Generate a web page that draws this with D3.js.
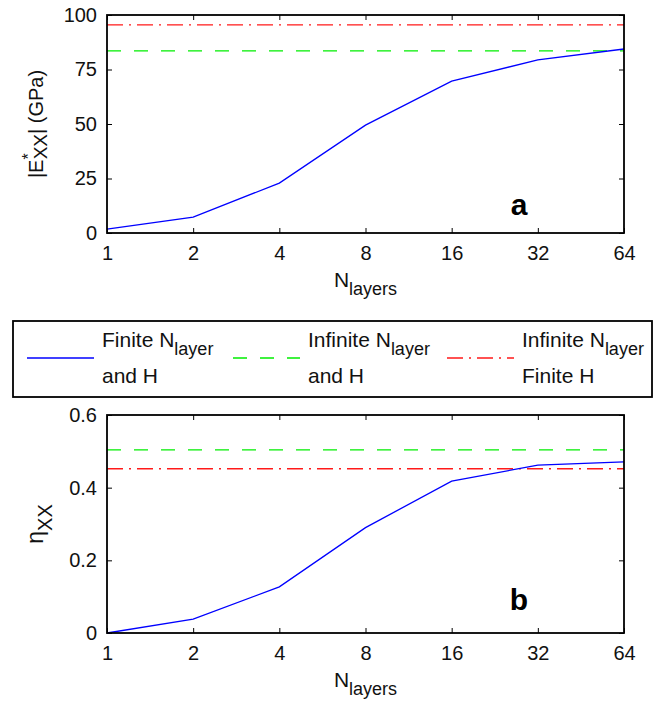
<!DOCTYPE html>
<html>
<head>
<meta charset="utf-8">
<script src="https://cdn.jsdelivr.net/npm/d3@7"></script>
<style>
    body { margin: 0; background: #fff; }
    svg { display: block; font-family: "Liberation Sans", Arial, sans-serif; }
    .frame { fill: none; stroke: #000; stroke-width: 1.8; }
    .axis path { display: none; }
    .axis line { stroke: #000; stroke-width: 1; }
    .axis text { font-size: 20px; fill: #111; font-family: "Liberation Sans", Arial, sans-serif; }
</style>
</head>
<body>
<script>
// Number of layers (x axis, log2 spaced)
const nLayers = [1, 2, 4, 8, 16, 32, 64];

// Panel a: |E*_XX| (GPa)
const exxFinite = [1.8, 7.3, 22.9, 49.5, 69.7, 79.4, 84.4];
const exxInfiniteNH = 83.5;     // infinite N_layer and H
const exxInfiniteNFiniteH = 95.5; // infinite N_layer, finite H
const exxTicks = [0, 25, 50, 75, 100];

// Panel b: eta_XX
const etaFinite = [0.0, 0.038, 0.127, 0.29, 0.418, 0.462, 0.471];
const etaInfiniteNH = 0.504;
const etaInfiniteNFiniteH = 0.452;
const etaTicks = [0, 0.2, 0.4, 0.6];

const legendLabels = [
    ["Finite N", "layer", "and H"],
    ["Infinite N", "layer", "and H"],
    ["Infinite N", "layer", "Finite H"]
];

const styles = {
    finite: { color: "#0000ff", dash: null },
    infNH: { color: "#00ee00", dash: "14,13" },
    infNFinH: { color: "#ff1a1a", dash: "16,6,2,6" }
};

const svg = d3.select("body").append("svg").attr("width", 659).attr("height", 701);

const left = 107, right = 624;

function drawPanel(opts) {
    const x = d3.scaleLog().base(2).domain([1, 64]).range([left, right]);
    const y = d3.scaleLinear().domain(opts.yDomain).range([opts.bottom, opts.top]);
    const g = svg.append("g");

    // axes with inward ticks
    g.append("g").attr("class", "axis")
        .attr("transform", `translate(0,${opts.bottom})`)
        .call(d3.axisBottom(x).tickValues(nLayers).tickFormat(d3.format("d")).tickSizeInner(-5).tickSizeOuter(0).tickPadding(13));
    g.append("g").attr("class", "axis")
        .attr("transform", `translate(0,${opts.top})`)
        .call(d3.axisTop(x).tickValues(nLayers).tickFormat("").tickSizeInner(-5).tickSizeOuter(0));
    g.append("g").attr("class", "axis")
        .attr("transform", `translate(${left},0)`)
        .call(d3.axisLeft(y).tickValues(opts.ticks).tickFormat(opts.fmt).tickSizeInner(-5).tickSizeOuter(0).tickPadding(10));
    g.append("g").attr("class", "axis")
        .attr("transform", `translate(${right},0)`)
        .call(d3.axisRight(y).tickValues(opts.ticks).tickFormat("").tickSizeInner(-5).tickSizeOuter(0));

    const line = d3.line().x(d => x(d[0])).y(d => y(d[1]));

    const refs = [
        { v: opts.infNH, s: styles.infNH },
        { v: opts.infNFinH, s: styles.infNFinH }
    ];
    refs.forEach(r => {
        g.append("path")
            .attr("d", line(x.domain().map(n => [n, r.v])))
            .attr("fill", "none")
            .attr("stroke", r.s.color)
            .attr("stroke-width", 1.3)
            .attr("stroke-dasharray", r.s.dash);
    });

    g.append("path")
        .attr("d", line(nLayers.map((n, i) => [n, opts.finite[i]])))
        .attr("fill", "none")
        .attr("stroke", styles.finite.color)
        .attr("stroke-width", 1.3);

    g.append("rect").attr("class", "frame")
        .attr("x", left).attr("y", opts.top)
        .attr("width", right - left).attr("height", opts.bottom - opts.top);

    // panel letter
    g.append("text")
        .attr("x", 519).attr("y", opts.bottom - opts.letterOffset)
        .attr("text-anchor", "middle")
        .attr("font-size", 30).attr("font-weight", "bold")
        .text(opts.letter);

    // x label
    const xl = g.append("text")
        .attr("x", (left + right) / 2).attr("y", opts.bottom + 54)
        .attr("text-anchor", "middle")
        .attr("font-size", 21).attr("fill", "#111");
    xl.append("tspan").text("N");
    xl.append("tspan").attr("dy", 8).attr("font-size", 18).text("layers");

    // y label
    const yl = g.append("text")
        .attr("transform", `translate(43,${(opts.top + opts.bottom) / 2}) rotate(-90)`)
        .attr("text-anchor", "middle")
        .attr("font-size", 20).attr("fill", "#111");
    opts.yLabel(yl);
}

drawPanel({
    top: 15, bottom: 233,
    yDomain: [0, 100], ticks: exxTicks, fmt: d3.format("d"),
    finite: exxFinite, infNH: exxInfiniteNH, infNFinH: exxInfiniteNFiniteH,
    letter: "a", letterOffset: 18,
    yLabel: t => {
        t.append("tspan").text("|E");
        t.append("tspan").attr("dy", -9).attr("font-size", 16).text("*");
        t.append("tspan").attr("dx", -6).attr("dy", 13).attr("font-size", 19).text("XX");
        t.append("tspan").attr("dy", -4).text("| (GPa)");
    }
});

drawPanel({
    top: 415, bottom: 633,
    yDomain: [0, 0.6], ticks: etaTicks, fmt: d => d === 0 ? "0" : d3.format(".1f")(d),
    finite: etaFinite, infNH: etaInfiniteNH, infNFinH: etaInfiniteNFiniteH,
    letter: "b", letterOffset: 23,
    yLabel: t => {
        t.append("tspan").attr("font-size", 23).text("η");
        t.append("tspan").attr("dy", 9).attr("font-size", 20).text("XX");
    }
});

// legend
const legend = svg.append("g");
legend.append("rect")
    .attr("x", 13).attr("y", 321).attr("width", 639).attr("height", 76)
    .attr("fill", "#fff").attr("stroke", "#000").attr("stroke-width", 1.8);

const entryX = [27, 233, 447];
const entryStyles = [styles.finite, styles.infNH, styles.infNFinH];
entryStyles.forEach((s, i) => {
    const ex = entryX[i];
    legend.append("line")
        .attr("x1", ex).attr("x2", ex + 67).attr("y1", 358).attr("y2", 358)
        .attr("stroke", s.color).attr("stroke-width", 1.3)
        .attr("stroke-dasharray", s.dash);
    const t1 = legend.append("text").attr("x", ex + 75).attr("y", 347)
        .attr("font-size", 21).attr("fill", "#111");
    t1.append("tspan").text(legendLabels[i][0]);
    t1.append("tspan").attr("dy", 8).attr("font-size", 18).text(legendLabels[i][1]);
    legend.append("text").attr("x", ex + 75).attr("y", 383)
        .attr("font-size", 21).attr("fill", "#111")
        .text(legendLabels[i][2]);
});
</script>
</body>
</html>
